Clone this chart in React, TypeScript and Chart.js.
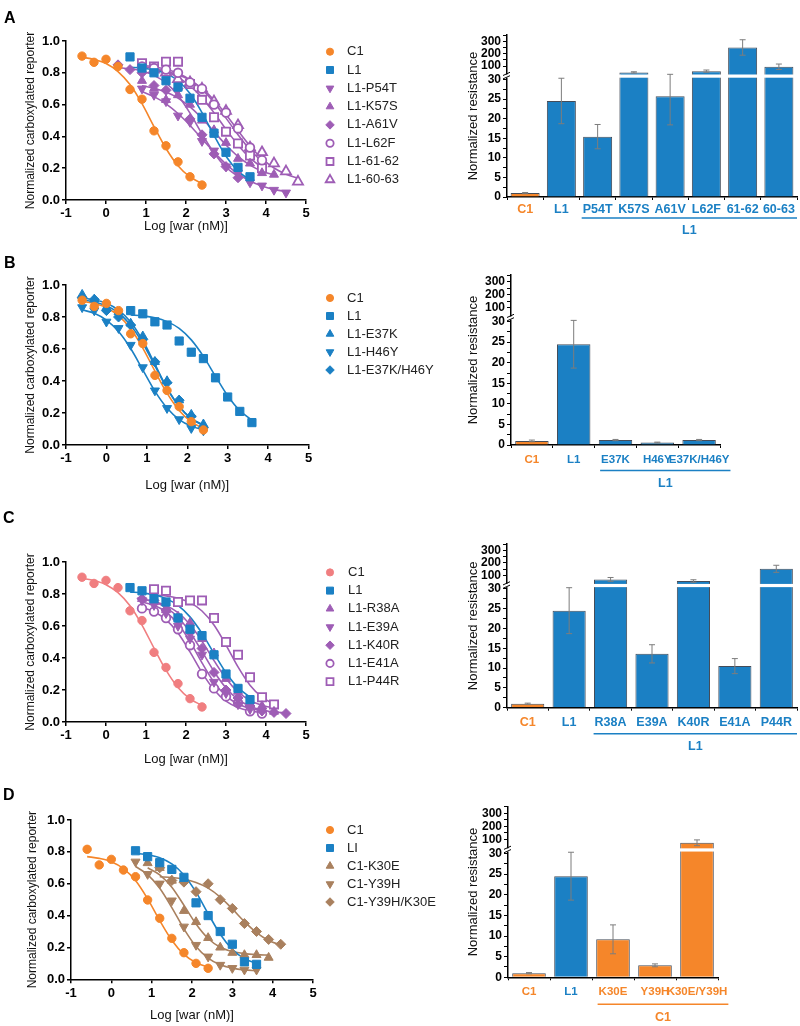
import React, { useEffect, useRef } from 'react';
import { Chart, registerables } from 'chart.js';
import { drawPoint } from 'chart.js/helpers';

Chart.register(...registerables);

const FONT = '"Liberation Sans", Arial, Helvetica, sans-serif';
Chart.defaults.font.family = FONT;

// ---------------- dose-response data (log [war (nM)] vs normalized reporter) ----------------
const X_M06_24 = [-0.6, -0.3, 0, 0.3, 0.6, 0.9, 1.2, 1.5, 1.8, 2.1, 2.4];
const X_06_36 = [0.6, 0.9, 1.2, 1.5, 1.8, 2.1, 2.4, 2.7, 3.0, 3.3, 3.6];
const X_03_33 = [0.3, 0.6, 0.9, 1.2, 1.5, 1.8, 2.1, 2.4, 2.7, 3.0, 3.3];
const X_09_39 = [0.9, 1.2, 1.5, 1.8, 2.1, 2.4, 2.7, 3.0, 3.3, 3.6, 3.9];
const X_09_42 = [0.9, 1.2, 1.5, 1.8, 2.1, 2.4, 2.7, 3.0, 3.3, 3.6, 3.9, 4.2];
const X_09_45 = [0.9, 1.2, 1.5, 1.8, 2.1, 2.4, 2.7, 3.0, 3.3, 3.6, 3.9, 4.2, 4.5];
const X_12_42 = [1.2, 1.5, 1.8, 2.1, 2.4, 2.7, 3.0, 3.3, 3.6, 3.9, 4.2];
const X_12_48 = [1.2, 1.5, 1.8, 2.1, 2.4, 2.7, 3.0, 3.3, 3.6, 3.9, 4.2, 4.5, 4.8];

// shared C1 / L1 controls (panels A-C)
const C1_Y = [0.905, 0.866, 0.885, 0.84, 0.695, 0.634, 0.435, 0.341, 0.24, 0.146, 0.094];
const C1_FIT = [0.898, 0.884, 0.858, 0.808, 0.726, 0.606, 0.462, 0.324, 0.216, 0.145, 0.104];
const L1_Y = [0.84, 0.82, 0.77, 0.75, 0.65, 0.58, 0.54, 0.42, 0.3, 0.21, 0.14];
const L1_FIT = [0.813, 0.807, 0.795, 0.771, 0.729, 0.657, 0.554, 0.429, 0.308, 0.215, 0.155];

// panel A
const A_L1_Y = [0.9, 0.83, 0.8, 0.75, 0.71, 0.64, 0.52, 0.42, 0.3, 0.205, 0.146];
const A_L1_FIT = [0.835, 0.83, 0.818, 0.795, 0.75, 0.67, 0.55, 0.406, 0.275, 0.182, 0.127];
const A_P54T_Y = [0.7, 0.66, 0.62, 0.53, 0.49, 0.37, 0.31, 0.21, 0.17, 0.11, 0.09, 0.063, 0.046];
const A_P54T_FIT = [0.682, 0.65, 0.605, 0.544, 0.469, 0.385, 0.301, 0.226, 0.165, 0.12, 0.088, 0.067, 0.053];
const A_K57S_Y = [0.75, 0.7, 0.63, 0.66, 0.6, 0.5, 0.44, 0.36, 0.26, 0.23, 0.17, 0.16];
const A_K57S_FIT = [0.718, 0.703, 0.679, 0.641, 0.586, 0.514, 0.43, 0.346, 0.274, 0.219, 0.181, 0.157];
const A_A61V_Y = [0.85, 0.82, 0.8, 0.72, 0.69, 0.7, 0.51, 0.41, 0.29, 0.21, 0.14];
const A_A61V_FIT = [0.832, 0.825, 0.811, 0.784, 0.736, 0.657, 0.546, 0.416, 0.296, 0.206, 0.149];
const A_L62F_Y = [0.84, 0.83, 0.82, 0.8, 0.74, 0.7, 0.6, 0.55, 0.45, 0.33, 0.25];
const A_L62F_FIT = [0.847, 0.838, 0.822, 0.797, 0.756, 0.696, 0.614, 0.515, 0.411, 0.316, 0.242];
const A_6162_Y = [0.86, 0.84, 0.87, 0.87, 0.73, 0.63, 0.52, 0.43, 0.355, 0.28, 0.2];
const A_6162_FIT = [0.841, 0.828, 0.806, 0.771, 0.718, 0.644, 0.549, 0.445, 0.346, 0.264, 0.204];
const A_6063_Y = [0.82, 0.8, 0.76, 0.74, 0.7, 0.62, 0.56, 0.47, 0.33, 0.3, 0.23, 0.18, 0.115];
const A_6063_FIT = [0.822, 0.809, 0.788, 0.754, 0.702, 0.629, 0.538, 0.436, 0.34, 0.26, 0.201, 0.162, 0.137];

// panel B
const B_E37K_Y = [0.94, 0.91, 0.86, 0.83, 0.76, 0.68, 0.52, 0.4, 0.28, 0.19, 0.13];
const B_E37K_FIT = [0.919, 0.908, 0.886, 0.843, 0.769, 0.653, 0.505, 0.357, 0.241, 0.167, 0.124];
const B_H46Y_Y = [0.86, 0.84, 0.77, 0.73, 0.625, 0.485, 0.34, 0.23, 0.16, 0.105, 0.09];
const B_H46Y_FIT = [0.845, 0.823, 0.78, 0.709, 0.603, 0.47, 0.337, 0.231, 0.159, 0.118, 0.095];
const B_DBL_Y = [0.92, 0.91, 0.84, 0.8, 0.75, 0.66, 0.52, 0.39, 0.28, 0.18, 0.11];
const B_DBL_FIT = [0.907, 0.894, 0.87, 0.825, 0.749, 0.636, 0.495, 0.353, 0.241, 0.165, 0.121];

// panel C
const C_R38A_Y = [0.77, 0.75, 0.7, 0.66, 0.62, 0.52, 0.43, 0.27, 0.19, 0.13, 0.1, 0.065];
const C_R38A_FIT = [0.766, 0.753, 0.728, 0.683, 0.609, 0.505, 0.384, 0.272, 0.188, 0.135, 0.104, 0.087];
const C_E39A_Y = [0.76, 0.73, 0.68, 0.6, 0.52, 0.42, 0.25, 0.18, 0.11, 0.08, 0.07];
const C_E39A_FIT = [0.75, 0.729, 0.687, 0.614, 0.503, 0.37, 0.249, 0.163, 0.112, 0.085, 0.072];
const C_K40R_Y = [0.77, 0.76, 0.7, 0.64, 0.56, 0.46, 0.31, 0.2, 0.15, 0.1, 0.07, 0.06, 0.053];
const C_K40R_FIT = [0.77, 0.751, 0.715, 0.655, 0.561, 0.441, 0.316, 0.213, 0.142, 0.099, 0.075, 0.063, 0.057];
const C_E41A_Y = [0.71, 0.69, 0.65, 0.58, 0.48, 0.3, 0.21, 0.16, 0.12, 0.067, 0.053];
const C_E41A_FIT = [0.715, 0.689, 0.64, 0.556, 0.438, 0.309, 0.202, 0.13, 0.09, 0.069, 0.059];
const C_P44R_Y = [0.83, 0.82, 0.75, 0.76, 0.76, 0.65, 0.5, 0.42, 0.28, 0.155, 0.11];
const C_P44R_FIT = [0.794, 0.788, 0.774, 0.746, 0.694, 0.606, 0.481, 0.344, 0.23, 0.155, 0.112];

// panel D
const D_C1_Y = [0.816, 0.718, 0.753, 0.686, 0.644, 0.498, 0.383, 0.257, 0.167, 0.1, 0.069];
const D_C1_FIT = [0.77, 0.759, 0.738, 0.695, 0.62, 0.505, 0.369, 0.245, 0.156, 0.104, 0.076];
const D_L1_Y = [0.807, 0.77, 0.732, 0.69, 0.64, 0.48, 0.4, 0.3, 0.22, 0.11, 0.094];
const D_L1_FIT = [0.791, 0.782, 0.763, 0.724, 0.655, 0.547, 0.412, 0.283, 0.188, 0.13, 0.1];
const D_K30E_Y = [0.73, 0.7, 0.62, 0.43, 0.36, 0.26, 0.2, 0.167, 0.153, 0.153, 0.136];
const D_K30E_FIT = [0.7, 0.656, 0.578, 0.465, 0.347, 0.256, 0.201, 0.174, 0.161, 0.155, 0.152];
const D_Y39H_Y = [0.738, 0.66, 0.6, 0.494, 0.33, 0.215, 0.142, 0.09, 0.07, 0.06, 0.06];
const D_Y39H_FIT = [0.708, 0.657, 0.571, 0.45, 0.317, 0.206, 0.133, 0.091, 0.07, 0.059, 0.054];
const D_DBL_Y = [0.7, 0.62, 0.61, 0.55, 0.6, 0.5, 0.445, 0.35, 0.3, 0.25, 0.22];
const D_DBL_FIT = [0.644, 0.639, 0.628, 0.607, 0.572, 0.516, 0.442, 0.362, 0.293, 0.244, 0.215];

// ---------------- resistance bar data ----------------
const A_CATS = ['C1', 'L1', 'P54T', 'K57S', 'A61V', 'L62F', '61-62', '60-63'];
const A_PARENT = ['C1', 'L1', 'L1', 'L1', 'L1', 'L1', 'L1', 'L1'];
const A_RES = [1, 24.5, 15.4, 50, 25.7, 60, 250, 95];
const A_ERR = [0.15, 5.8, 3.1, 5, 7.3, 9, 62, 22];

const B_CATS = ['C1', 'L1', 'E37K', 'H46Y', 'E37K/H46Y'];
const B_PARENT = ['C1', 'L1', 'L1', 'L1', 'L1'];
const B_RES = [1, 24.5, 1.2, 0.6, 1.2];
const B_ERR = [0.2, 5.8, 0.15, 0.1, 0.15];

const C_CATS = ['C1', 'L1', 'R38A', 'E39A', 'K40R', 'E41A', 'P44R'];
const C_PARENT = ['C1', 'L1', 'L1', 'L1', 'L1', 'L1', 'L1'];
const C_RES = [1, 24.5, 69, 13.6, 56, 10.5, 153];
const C_ERR = [0.15, 5.8, 15, 2.3, 10, 1.9, 28];

const D_CATS = ['C1', 'L1', 'K30E', 'Y39H', 'K30E/Y39H'];
const D_PARENT = ['C1', 'L1', 'C1', 'C1', 'C1'];
const D_RES = [1, 24.5, 9.2, 2.9, 75];
const D_ERR = [0.15, 5.8, 3.5, 0.35, 22];

const LOW_TICKS = [0, 2.5, 5, 7.5, 10, 12.5, 15, 17.5, 20, 22.5, 25, 27.5, 30];
const LOW_LABELS = [0, 5, 10, 15, 20, 25, 30];
const HIGH_TICKS = [100, 150, 200, 250, 300, 350];
const HIGH_LABELS = [100, 200, 300];
const LOW_MAX = 31;
const HIGH_MIN = 25;
const HIGH_MAX = 350;

// ---------------- styles ----------------
const ORANGE = '#F5862A';
const BLUE = '#1B80C4';
const PURPLE = '#9E5DB5';
const PINK = '#F07E80';
const BROWN = '#A9805E';
const BAR_EDGE = 'rgba(35,45,60,0.85)';

const MARKERS: Record<string, { pointStyle: string; rotation: number; radius: number; open: boolean }> = {
  circle: { pointStyle: 'circle', rotation: 0, radius: 4.2, open: false },
  square: { pointStyle: 'rect', rotation: 0, radius: 5.8, open: false },
  tri: { pointStyle: 'triangle', rotation: 0, radius: 5.2, open: false },
  triDown: { pointStyle: 'triangle', rotation: 180, radius: 5.2, open: false },
  diamond: { pointStyle: 'rectRot', rotation: 0, radius: 5, open: false },
  circleOpen: { pointStyle: 'circle', rotation: 0, radius: 4.3, open: true },
  squareOpen: { pointStyle: 'rect', rotation: 0, radius: 5.8, open: true },
  triOpen: { pointStyle: 'triangle', rotation: 0, radius: 5.8, open: true },
};

type Series = { label: string; x: number[]; y: number[]; fit: number[]; marker: string; color: string };

const SERIES_A: Series[] = [
  { label: 'C1', x: X_M06_24, y: C1_Y, fit: C1_FIT, marker: 'circle', color: ORANGE },
  { label: 'L1', x: X_06_36, y: A_L1_Y, fit: A_L1_FIT, marker: 'square', color: BLUE },
  { label: 'L1-P54T', x: X_09_45, y: A_P54T_Y, fit: A_P54T_FIT, marker: 'triDown', color: PURPLE },
  { label: 'L1-K57S', x: X_09_42, y: A_K57S_Y, fit: A_K57S_FIT, marker: 'tri', color: PURPLE },
  { label: 'L1-A61V', x: X_03_33, y: A_A61V_Y, fit: A_A61V_FIT, marker: 'diamond', color: PURPLE },
  { label: 'L1-L62F', x: X_09_39, y: A_L62F_Y, fit: A_L62F_FIT, marker: 'circleOpen', color: PURPLE },
  { label: 'L1-61-62', x: X_09_39, y: A_6162_Y, fit: A_6162_FIT, marker: 'squareOpen', color: PURPLE },
  { label: 'L1-60-63', x: X_12_48, y: A_6063_Y, fit: A_6063_FIT, marker: 'triOpen', color: PURPLE },
];
const SERIES_B: Series[] = [
  { label: 'C1', x: X_M06_24, y: C1_Y, fit: C1_FIT, marker: 'circle', color: ORANGE },
  { label: 'L1', x: X_06_36, y: L1_Y, fit: L1_FIT, marker: 'square', color: BLUE },
  { label: 'L1-E37K', x: X_M06_24, y: B_E37K_Y, fit: B_E37K_FIT, marker: 'tri', color: BLUE },
  { label: 'L1-H46Y', x: X_M06_24, y: B_H46Y_Y, fit: B_H46Y_FIT, marker: 'triDown', color: BLUE },
  { label: 'L1-E37K/H46Y', x: X_M06_24, y: B_DBL_Y, fit: B_DBL_FIT, marker: 'diamond', color: BLUE },
];
const SERIES_C: Series[] = [
  { label: 'C1', x: X_M06_24, y: C1_Y, fit: C1_FIT, marker: 'circle', color: PINK },
  { label: 'L1', x: X_06_36, y: L1_Y, fit: L1_FIT, marker: 'square', color: BLUE },
  { label: 'L1-R38A', x: X_09_42, y: C_R38A_Y, fit: C_R38A_FIT, marker: 'tri', color: PURPLE },
  { label: 'L1-E39A', x: X_09_39, y: C_E39A_Y, fit: C_E39A_FIT, marker: 'triDown', color: PURPLE },
  { label: 'L1-K40R', x: X_09_45, y: C_K40R_Y, fit: C_K40R_FIT, marker: 'diamond', color: PURPLE },
  { label: 'L1-E41A', x: X_09_39, y: C_E41A_Y, fit: C_E41A_FIT, marker: 'circleOpen', color: PURPLE },
  { label: 'L1-P44R', x: X_12_42, y: C_P44R_Y, fit: C_P44R_FIT, marker: 'squareOpen', color: PURPLE },
];
const SERIES_D: Series[] = [
  { label: 'C1', x: X_M06_24, y: D_C1_Y, fit: D_C1_FIT, marker: 'circle', color: ORANGE },
  { label: 'LI', x: X_06_36, y: D_L1_Y, fit: D_L1_FIT, marker: 'square', color: BLUE },
  { label: 'C1-K30E', x: X_09_39, y: D_K30E_Y, fit: D_K30E_FIT, marker: 'tri', color: BROWN },
  { label: 'C1-Y39H', x: X_06_36, y: D_Y39H_Y, fit: D_Y39H_FIT, marker: 'triDown', color: BROWN },
  { label: 'C1-Y39H/K30E', x: X_12_42, y: D_DBL_Y, fit: D_DBL_FIT, marker: 'diamond', color: BROWN },
];

type DoseGeom = { left: number; top: number; w: number; h: number; padTop: number; padRight: number; xH: number; titleOff: number; yW: number; yTitlePad: number; legX: number; legTextX: number; legTop: number; legDy: number };

const GEOM_A: DoseGeom = { left: 0, top: 0, w: 440, h: 239, padTop: 41, padRight: 134, xH: 39, titleOff: 26, yW: 66, yTitlePad: 23, legX: 330, legTextX: 347, legTop: 10.7, legDy: 18.3 };
const GEOM_B: DoseGeom = { left: 0, top: 245, w: 440, h: 248, padTop: 40, padRight: 131.5, xH: 48, titleOff: 40, yW: 66, yTitlePad: 23, legX: 330, legTextX: 347, legTop: 13, legDy: 18 };
const GEOM_C: DoseGeom = { left: 0, top: 522, w: 440, h: 245, padTop: 40, padRight: 134, xH: 45, titleOff: 37, yW: 66, yTitlePad: 23, legX: 330, legTextX: 348, legTop: 10.4, legDy: 18.2 };
const GEOM_D: DoseGeom = { left: 0, top: 780, w: 440, h: 244, padTop: 40, padRight: 127, xH: 44.7, titleOff: 36, yW: 71, yTitlePad: 25, legX: 330, legTextX: 347, legTop: 10, legDy: 18 };

type BarGeom = { left: number; top: number; w: number; h: number; padTop: number; padRight: number; xH: number; yW: number; titleX: number; lblPad: number; lblFont: number; lineOff: number };
const BGEOM_A: BarGeom = { left: 440, top: 0, w: 360, h: 240, padTop: 35, padRight: 3, xH: 43, yW: 67, titleX: 33, lblPad: 2, lblFont: 12.5, lineOff: 21 };
const BGEOM_B: BarGeom = { left: 440, top: 250, w: 360, h: 245, padTop: 25, padRight: 80, xH: 50, yW: 71, titleX: 33, lblPad: 5, lblFont: 11.5, lineOff: 25.5 };
const BGEOM_C: BarGeom = { left: 440, top: 510, w: 360, h: 250, padTop: 34, padRight: 3, xH: 52.3, yW: 67, titleX: 33, lblPad: 4, lblFont: 12.5, lineOff: 26 };
const BGEOM_D: BarGeom = { left: 440, top: 775, w: 360, h: 251, padTop: 31.7, padRight: 82, xH: 48.7, yW: 68, titleX: 33, lblPad: 5, lblFont: 11.5, lineOff: 27 };

const colorOf = (p: string) => (p === 'C1' ? ORANGE : BLUE);

// ---------------- plugins ----------------
function doseLegendPlugin(series: Series[], g: DoseGeom) {
  return {
    id: 'doseLegend',
    afterDraw(chart: any) {
      const { ctx, chartArea } = chart;
      ctx.save();
      series.forEach((s, i) => {
        const m = MARKERS[s.marker];
        const y = chartArea.top + g.legTop + i * g.legDy;
        ctx.fillStyle = m.open ? '#fff' : s.color;
        ctx.strokeStyle = s.color;
        ctx.lineWidth = m.open ? 1.8 : 1;
        drawPoint(ctx, { pointStyle: m.pointStyle, rotation: m.rotation, radius: m.radius * 0.85, borderWidth: ctx.lineWidth } as any, g.legX, y);
        ctx.fillStyle = '#222';
        ctx.font = `13px ${FONT}`;
        ctx.textAlign = 'left';
        ctx.textBaseline = 'middle';
        ctx.fillText(s.label, g.legTextX, y);
      });
      ctx.restore();
    },
  };
}

function barDecorPlugin(cats: string[], parents: string[], res: number[], err: number[], g: BarGeom) {
  return {
    id: 'barDecor',
    afterDatasetsDraw(chart: any) {
      const { ctx, chartArea } = chart;
      const xs = chart.scales.x;
      const lo = chart.scales.yLow;
      const hi = chart.scales.yHigh;
      const yb = lo.top;
      ctx.save();
      // axis break: white gap through bars and axis
      ctx.fillStyle = '#fff';
      ctx.fillRect(chartArea.left - 6, yb - 1, chartArea.right - chartArea.left + 8, 3.2);
      ctx.strokeStyle = '#000';
      ctx.lineWidth = 1;
      for (const d of [-1.6, 1.8]) {
        ctx.beginPath();
        ctx.moveTo(chartArea.left - 4, yb + d + 1.6);
        ctx.lineTo(chartArea.left + 3, yb + d - 1.6);
        ctx.stroke();
      }
      // error bars
      ctx.strokeStyle = '#7d7d7d';
      ctx.lineWidth = 1;
      res.forEach((v, i) => {
        const e = err[i];
        const x = xs.getPixelForValue(i);
        let y1: number, y2: number;
        if (v > LOW_MAX) {
          y1 = hi.getPixelForValue(Math.max(v - e, HIGH_MIN));
          y2 = hi.getPixelForValue(v + e);
        } else {
          y1 = lo.getPixelForValue(v - e);
          y2 = lo.getPixelForValue(Math.min(v + e, LOW_MAX + 0.3));
        }
        ctx.beginPath();
        ctx.moveTo(x, y1);
        ctx.lineTo(x, y2);
        ctx.moveTo(x - 3, y1);
        ctx.lineTo(x + 3, y1);
        ctx.moveTo(x - 3, y2);
        ctx.lineTo(x + 3, y2);
        ctx.stroke();
      });
      ctx.restore();
    },
    afterDraw(chart: any) {
      const { ctx, chartArea } = chart;
      const xs = chart.scales.x;
      ctx.save();
      // y-axis title centred on the whole broken axis
      ctx.translate(g.titleX, (chartArea.top + chartArea.bottom) / 2);
      ctx.rotate(-Math.PI / 2);
      ctx.fillStyle = '#111';
      ctx.font = `13px ${FONT}`;
      ctx.textAlign = 'center';
      ctx.textBaseline = 'middle';
      ctx.fillText('Normalized resistance', 0, 0);
      ctx.restore();
      // group bracket (mutants of a parent)
      const idx = cats.map((c, i) => (c !== parents[i] ? i : -1)).filter((i) => i >= 0);
      if (idx.length) {
        ctx.save();
        ctx.font = `bold ${g.lblFont}px ${FONT}`;
        const first = idx[0];
        const last = idx[idx.length - 1];
        const x0 = xs.getPixelForValue(first) - ctx.measureText(cats[first]).width / 2 - 1;
        const x1 = Math.max(chartArea.right, xs.getPixelForValue(last) + ctx.measureText(cats[last]).width / 2 + 1);
        const ly = chartArea.bottom + g.lineOff;
        const col = colorOf(parents[first]);
        ctx.strokeStyle = col;
        ctx.lineWidth = 1.6;
        ctx.beginPath();
        ctx.moveTo(x0, ly);
        ctx.lineTo(x1, ly);
        ctx.stroke();
        ctx.font = `bold 12.5px ${FONT}`;
        ctx.fillStyle = col;
        ctx.textAlign = 'center';
        ctx.textBaseline = 'middle';
        ctx.fillText(parents[first], (x0 + x1) / 2, ly + 13);
        ctx.restore();
      }
    },
  };
}

// ---------------- chart configs ----------------
function doseConfig(series: Series[], g: DoseGeom): any {
  const datasets: any[] = [];
  series.forEach((s) => {
    datasets.push({
      label: '_fit',
      data: s.x.map((x, i) => ({ x, y: s.fit[i] })),
      borderColor: s.color,
      borderWidth: 1.6,
      pointRadius: 0,
      cubicInterpolationMode: 'monotone',
      fill: false,
      order: 1,
    });
  });
  series.forEach((s) => {
    const m = MARKERS[s.marker];
    datasets.push({
      label: s.label,
      data: s.x.map((x, i) => ({ x, y: s.y[i] })),
      showLine: false,
      pointStyle: m.pointStyle,
      pointRotation: m.rotation,
      pointRadius: m.radius,
      pointBackgroundColor: m.open ? '#fff' : s.color,
      pointBorderColor: s.color,
      pointBorderWidth: m.open ? 1.8 : 1,
      order: 0,
    });
  });
  const axisGrid = { drawOnChartArea: false, drawTicks: true, tickLength: 4, color: '#000', lineWidth: 1.5 };
  const axisBorder = { display: true, color: '#000', width: 1.5 };
  const titlePadBottom = Math.max(0, g.xH - g.titleOff - 7.8);
  return {
    type: 'line',
    data: { datasets },
    plugins: [doseLegendPlugin(series, g)],
    options: {
      animation: false,
      responsive: false,
      maintainAspectRatio: false,
      layout: { padding: { left: 0, top: g.padTop, right: g.padRight, bottom: 0 } },
      plugins: { legend: { display: false }, tooltip: { enabled: false } },
      scales: {
        x: {
          type: 'linear',
          min: -1,
          max: 5,
          ticks: { stepSize: 1, color: '#000', font: { size: 13, weight: 'bold' }, padding: 2, maxRotation: 0, autoSkip: false },
          grid: axisGrid,
          border: axisBorder,
          title: { display: true, text: 'Log [war (nM)]', color: '#111', font: { size: 13 }, padding: { top: 0, bottom: titlePadBottom } },
          afterFit: (s: any) => {
            s.height = g.xH;
          },
        },
        y: {
          type: 'linear',
          min: 0,
          max: 1,
          ticks: { stepSize: 0.2, color: '#000', font: { size: 13, weight: 'bold' }, padding: 2, autoSkip: false, callback: (v: any) => Number(v).toFixed(1) },
          grid: axisGrid,
          border: axisBorder,
          title: { display: true, text: 'Normalized carboxylated reporter', color: '#111', font: { size: 12 }, padding: { top: g.yTitlePad, bottom: 0 } },
          afterFit: (s: any) => {
            s.width = g.yW;
          },
        },
      },
    },
  };
}

function barConfig(cats: string[], parents: string[], res: number[], err: number[], g: BarGeom): any {
  const fills = parents.map(colorOf);
  const common = { backgroundColor: fills, borderColor: BAR_EDGE, borderWidth: 1, barPercentage: 0.8, categoryPercentage: 1, grouped: false };
  const yGrid = { drawOnChartArea: false, drawTicks: true, tickLength: 4, color: '#000', lineWidth: 1 };
  const yBorder = { display: true, color: '#000', width: 1.5 };
  const yTickFont = { size: 12, weight: 'bold' };
  return {
    type: 'bar',
    data: {
      labels: cats,
      datasets: [
        { ...common, data: res.map((v) => Math.min(v, LOW_MAX)), xAxisID: 'x', yAxisID: 'yLow' },
        { ...common, data: res.map((v) => (v > LOW_MAX ? [HIGH_MIN, v] : null)), xAxisID: 'x', yAxisID: 'yHigh' },
      ],
    },
    plugins: [barDecorPlugin(cats, parents, res, err, g)],
    options: {
      animation: false,
      responsive: false,
      maintainAspectRatio: false,
      layout: { padding: { left: 0, top: g.padTop, right: g.padRight, bottom: 0 } },
      plugins: { legend: { display: false }, tooltip: { enabled: false } },
      scales: {
        x: {
          type: 'category',
          offset: true,
          ticks: {
            color: (c: any) => colorOf(parents[c.index] ?? 'L1'),
            font: { size: g.lblFont, weight: 'bold' },
            padding: g.lblPad,
            autoSkip: false,
            maxRotation: 0,
            minRotation: 0,
          },
          grid: { offset: true, drawOnChartArea: false, drawTicks: true, tickLength: 3, color: '#000', lineWidth: 1 },
          border: { display: true, color: '#000', width: 1.5 },
          afterFit: (s: any) => {
            s.height = g.xH;
          },
        },
        yLow: {
          type: 'linear',
          position: 'left',
          stack: 'res',
          stackWeight: 3,
          min: 0,
          max: LOW_MAX,
          afterBuildTicks: (s: any) => {
            s.ticks = LOW_TICKS.map((value) => ({ value }));
          },
          ticks: { color: '#000', font: yTickFont, padding: 2, autoSkip: false, callback: (v: any) => (LOW_LABELS.includes(Number(v)) ? String(v) : '') },
          grid: yGrid,
          border: yBorder,
          afterFit: (s: any) => {
            s.width = g.yW;
          },
        },
        yHigh: {
          type: 'linear',
          position: 'left',
          stack: 'res',
          stackWeight: 1,
          min: HIGH_MIN,
          max: HIGH_MAX,
          afterBuildTicks: (s: any) => {
            s.ticks = HIGH_TICKS.map((value) => ({ value }));
          },
          ticks: { color: '#000', font: yTickFont, padding: 2, autoSkip: false, callback: (v: any) => (HIGH_LABELS.includes(Number(v)) ? String(v) : '') },
          grid: yGrid,
          border: yBorder,
          afterFit: (s: any) => {
            s.width = g.yW;
          },
        },
      },
    },
  };
}

// ---------------- components ----------------
function ChartCanvas({ config, g }: { config: () => any; g: { left: number; top: number; w: number; h: number } }) {
  const ref = useRef<HTMLCanvasElement | null>(null);
  useEffect(() => {
    if (!ref.current) return;
    const chart = new Chart(ref.current, config());
    return () => chart.destroy();
  }, []);
  return (
    <canvas
      ref={ref}
      width={g.w}
      height={g.h}
      style={{ position: 'absolute', left: g.left, top: g.top, width: g.w, height: g.h }}
    />
  );
}

const letterStyle = (left: number, top: number): React.CSSProperties => ({
  position: 'absolute',
  left,
  top,
  fontFamily: FONT,
  fontWeight: 'bold',
  fontSize: 16,
  lineHeight: '16px',
  color: '#000',
});

export default function App() {
  return (
    <div style={{ position: 'absolute', left: 0, top: 0, width: 800, height: 1026, background: '#fff', overflow: 'hidden' }}>
      <ChartCanvas g={GEOM_A} config={() => doseConfig(SERIES_A, GEOM_A)} />
      <ChartCanvas g={BGEOM_A} config={() => barConfig(A_CATS, A_PARENT, A_RES, A_ERR, BGEOM_A)} />
      <ChartCanvas g={GEOM_B} config={() => doseConfig(SERIES_B, GEOM_B)} />
      <ChartCanvas g={BGEOM_B} config={() => barConfig(B_CATS, B_PARENT, B_RES, B_ERR, BGEOM_B)} />
      <ChartCanvas g={GEOM_C} config={() => doseConfig(SERIES_C, GEOM_C)} />
      <ChartCanvas g={BGEOM_C} config={() => barConfig(C_CATS, C_PARENT, C_RES, C_ERR, BGEOM_C)} />
      <ChartCanvas g={GEOM_D} config={() => doseConfig(SERIES_D, GEOM_D)} />
      <ChartCanvas g={BGEOM_D} config={() => barConfig(D_CATS, D_PARENT, D_RES, D_ERR, BGEOM_D)} />
      <div style={letterStyle(4, 10)}>A</div>
      <div style={letterStyle(4, 255)}>B</div>
      <div style={letterStyle(3, 510)}>C</div>
      <div style={letterStyle(3, 787)}>D</div>
    </div>
  );
}
